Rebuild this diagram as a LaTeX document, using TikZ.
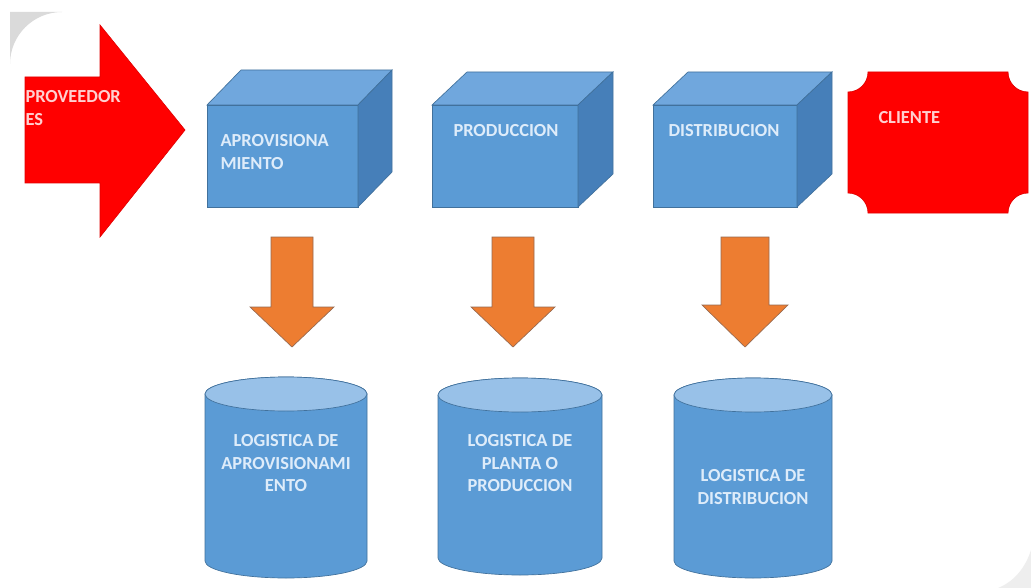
\documentclass[tikz,border=0pt]{standalone}
\usepackage{fontspec}
\setmainfont{Carlito}

\tikzset{every picture/.style={line width=0.75pt}}
\tikzset{
  panelgray/.style={fill={rgb, 255:red, 218; green, 218; blue, 218 }},
  panelfaint/.style={fill={rgb, 255:red, 238; green, 238; blue, 238 }},
  redshape/.style={fill={rgb, 255:red, 255; green, 0; blue, 0 }, draw={rgb, 255:red, 225; green, 0; blue, 0 }, line width=0.5pt},
  cubefront/.style={fill={rgb, 255:red, 91; green, 155; blue, 213 }, draw={rgb, 255:red, 65; green, 113; blue, 156 }, line width=0.5pt},
  cubetop/.style={fill={rgb, 255:red, 112; green, 167; blue, 221 }, draw={rgb, 255:red, 65; green, 113; blue, 156 }, line width=0.5pt},
  cubeside/.style={fill={rgb, 255:red, 70; green, 127; blue, 185 }, draw={rgb, 255:red, 65; green, 113; blue, 156 }, line width=0.5pt},
  cyltop/.style={fill={rgb, 255:red, 152; green, 193; blue, 232 }, draw={rgb, 255:red, 65; green, 113; blue, 156 }, line width=0.5pt},
  downarrow/.style={fill={rgb, 255:red, 237; green, 125; blue, 49 }, draw={rgb, 255:red, 150; green, 105; blue, 80 }, line width=0.5pt},
  bluelbl/.style={inner sep=0.75pt, font=\fontsize{13.8}{17}\selectfont\bfseries, text={rgb, 255:red, 222; green, 236; blue, 250 }},
  redlbl/.style={inner sep=0.75pt, font=\fontsize{13.8}{17}\selectfont\bfseries, text={rgb, 255:red, 255; green, 208; blue, 208 }},
}

\begin{document}
\begin{tikzpicture}[x=0.75pt,y=0.75pt,yscale=-1,xscale=1]
\useasboundingbox (0,0) rectangle (1031,588);
%Background
\fill [white] (0,0) rectangle (1031,588);
\fill [panelgray] (10,12) -- (62,12) .. controls (33.3,12) and (10,35.3) .. (10,64) -- cycle ;
\fill [panelfaint] (1031,588) -- (1031,550) .. controls (1025,569) and (1013,582) .. (998,588) -- cycle ;

%Shape: Right Arrow
\draw [redshape] (25,77) -- (100,77) -- (100,25) -- (185,130) -- (100,237) -- (100,183) -- (25,183) -- cycle;

%Shape: Cube
\draw [cubefront] (207,105) -- (358,105) -- (358,207) -- (207,207) -- cycle ;
\draw [cubetop] (207,105) -- (241,70) -- (392,70) -- (358,105) -- cycle ;
\draw [cubeside] (358,105) -- (392,70) -- (392,172) -- (358,207) -- cycle ;
%Shape: Cube
\draw [cubefront] (432,105) -- (578,105) -- (578,207) -- (432,207) -- cycle ;
\draw [cubetop] (432,105) -- (467,72) -- (613,72) -- (578,105) -- cycle ;
\draw [cubeside] (578,105) -- (613,72) -- (613,174) -- (578,207) -- cycle ;
%Shape: Cube
\draw [cubefront] (653,105) -- (797,105) -- (797,207) -- (653,207) -- cycle ;
\draw [cubetop] (653,105) -- (688,72) -- (832,72) -- (797,105) -- cycle ;
\draw [cubeside] (797,105) -- (832,72) -- (832,174) -- (797,207) -- cycle ;

%Shape: Plaque
\draw [redshape] (868,72) -- (1008,72) .. controls (1008,83.05) and (1016.95,92) .. (1028,92) -- (1028,193) .. controls (1016.95,193) and (1008,201.95) .. (1008,213) -- (868,213) .. controls (868,201.95) and (859.05,193) .. (848,193) -- (848,92) .. controls (859.05,92) and (868,83.05) .. (868,72) -- cycle ;

%Shape: Down Arrow
\draw [downarrow] (271,237) -- (313,237) -- (313,307) -- (334,307) -- (292,347) -- (250,307) -- (271,307) -- cycle ;
%Shape: Down Arrow
\draw [downarrow] (492,237) -- (534,237) -- (534,307) -- (555,307) -- (513,347) -- (471,307) -- (492,307) -- cycle ;
%Shape: Down Arrow
\draw [downarrow] (721,237) -- (769,237) -- (769,305) -- (788,305) -- (745,347) -- (702,305) -- (721,305) -- cycle ;

%Shape: Can
\draw [cubefront] (205,394) -- (205,561) .. controls (205,570.39) and (241.26,578) .. (286,578) .. controls (330.74,578) and (367,570.39) .. (367,561) -- (367,394) .. controls (367,384.61) and (330.74,377) .. (286,377) .. controls (241.26,377) and (205,384.61) .. (205,394) -- cycle ;
\draw [cyltop] (205,394) .. controls (205,403.39) and (241.26,411) .. (286,411) .. controls (330.74,411) and (367,403.39) .. (367,394) .. controls (367,384.61) and (330.74,377) .. (286,377) .. controls (241.26,377) and (205,384.61) .. (205,394) -- cycle ;
%Shape: Can
\draw [cubefront] (438,395) -- (438,558) .. controls (438,567.39) and (474.71,575) .. (520,575) .. controls (565.29,575) and (602,567.39) .. (602,558) -- (602,395) .. controls (602,385.61) and (565.29,378) .. (520,378) .. controls (474.71,378) and (438,385.61) .. (438,395) -- cycle ;
\draw [cyltop] (438,395) .. controls (438,404.39) and (474.71,412) .. (520,412) .. controls (565.29,412) and (602,404.39) .. (602,395) .. controls (602,385.61) and (565.29,378) .. (520,378) .. controls (474.71,378) and (438,385.61) .. (438,395) -- cycle ;
%Shape: Can
\draw [cubefront] (674,395) -- (674,561) .. controls (674,570.39) and (709.37,578) .. (753,578) .. controls (796.63,578) and (832,570.39) .. (832,561) -- (832,395) .. controls (832,385.61) and (796.63,378) .. (753,378) .. controls (709.37,378) and (674,385.61) .. (674,395) -- cycle ;
\draw [cyltop] (674,395) .. controls (674,404.39) and (709.37,412) .. (753,412) .. controls (796.63,412) and (832,404.39) .. (832,395) .. controls (832,385.61) and (796.63,378) .. (753,378) .. controls (709.37,378) and (674,385.61) .. (674,395) -- cycle ;

% Text Node
\draw (24,89) node (prov) [anchor=north west][redlbl] [align=left] {PROVEEDOR\\ES};
% Text Node
\draw (219,133) node (aprov) [anchor=north west][bluelbl] [align=left] {APROVISIONA\\MIENTO};
% Text Node
\draw (452,123) node (prod) [anchor=north west][bluelbl] [align=left] {PRODUCCION};
% Text Node
\draw (667,123) node (dist) [anchor=north west][bluelbl] [align=left] {DISTRIBUCION};
% Text Node
\draw (877,110) node (cliente) [anchor=north west][redlbl] [align=left] {CLIENTE};
% Text Node
\draw (286,433) node (logaprov) [anchor=north][bluelbl] [align=center] {LOGISTICA DE\\APROVISIONAMI\\ENTO};
% Text Node
\draw (520,433) node (logprod) [anchor=north][bluelbl] [align=center] {LOGISTICA DE\\PLANTA O\\PRODUCCION};
% Text Node
\draw (753,468) node (logdist) [anchor=north][bluelbl] [align=center] {LOGISTICA DE\\DISTRIBUCION};
\end{tikzpicture}
\end{document}
